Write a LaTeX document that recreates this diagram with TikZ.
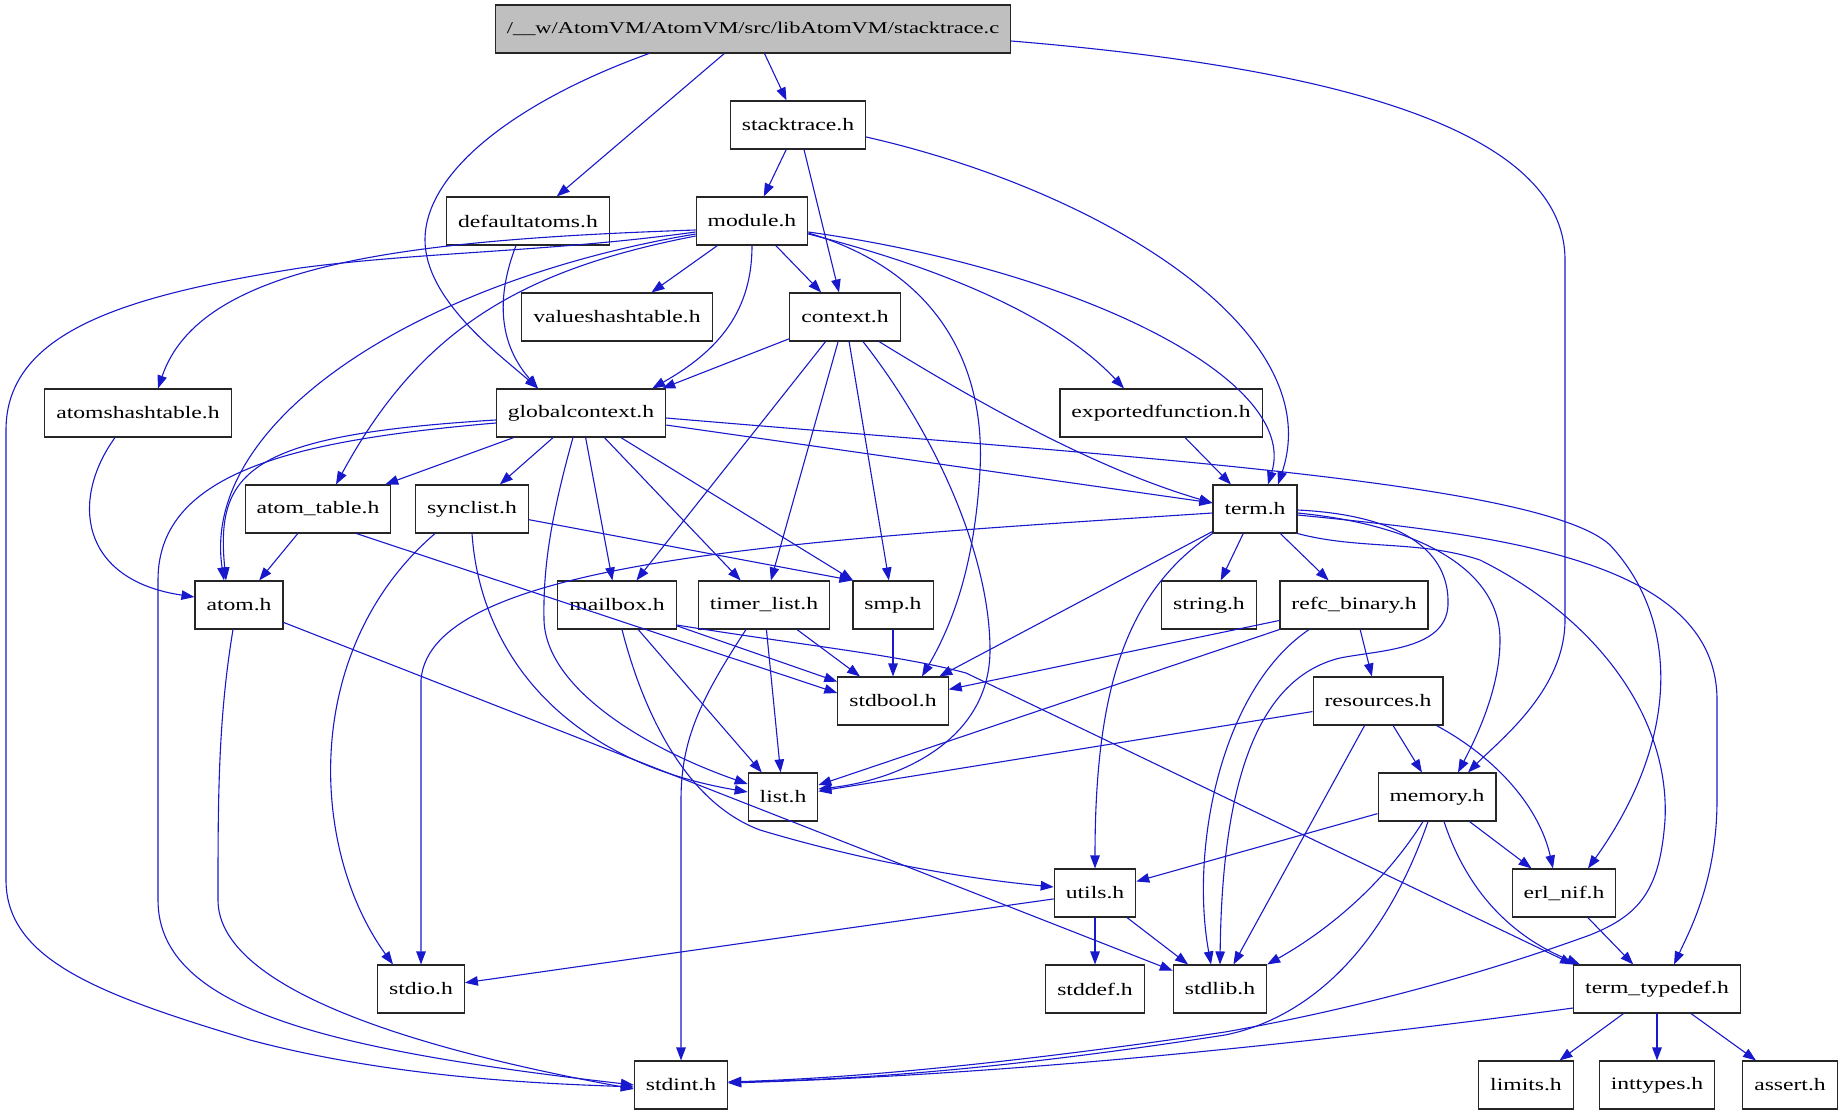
\documentclass[tikz,border=0pt]{standalone}
\usepackage{fontspec}
\setmainfont{Liberation Serif}[FakeStretch=1.35]
\usetikzlibrary{arrows.meta}
\definecolor{incblue}{RGB}{24,24,204}
\definecolor{rootgray}{RGB}{191,191,191}

\begin{document}
\begin{tikzpicture}[x=1pt,y=-1pt,>={Triangle[length=13pt,width=9.5pt]},
  hfile/.style={draw=black!85,line width=1.1pt,fill=white,rectangle,
    minimum height=48pt,inner xsep=11.5pt,inner ysep=0pt,
    font=\fontsize{17.5}{21}\selectfont},
  srcfile/.style={hfile,fill=rootgray,font=\fontsize{16.6}{20}\selectfont},
  inc/.style={->,draw=incblue,line width=1.1pt}]
\useasboundingbox (0,0) rectangle (1845,1115);

% the source file and its headers
\node[srcfile] (root) at (753,29) {/\_\_w/AtomVM/AtomVM/src/libAtomVM/stacktrace.c};
\foreach \n/\x/\y/\t in {
  sth/798/125/stacktrace.h,
  defaultatoms/528/221/defaultatoms.h, module/752/221/module.h,
  valueshashtable/617/317/valueshashtable.h, context/845/317/context.h,
  atomshashtable/138/413/atomshashtable.h, globalcontext/581/413/globalcontext.h,
  exportedfunction/1161/413/exportedfunction.h,
  atomtable/318/509/atom\_table.h, synclist/472/509/synclist.h, term/1255/509/term.h,
  atom/239/605/atom.h, mailbox/617/605/mailbox.h, timerlist/764/605/timer\_list.h,
  smp/893/605/smp.h, string/1209/605/string.h, refcbinary/1354/605/refc\_binary.h,
  stdbool/893/701/stdbool.h, resources/1378/701/resources.h,
  list/783/797/list.h, memory/1437/797/memory.h,
  utils/1095/893/utils.h, erlnif/1564/893/erl\_nif.h,
  stdio/421/989/stdio.h, stddef/1095/989/stddef.h, stdlib/1220/989/stdlib.h,
  termtypedef/1657/989/term\_typedef.h,
  stdint/681/1085/stdint.h, limits/1526/1085/limits.h,
  inttypes/1657/1085/inttypes.h, assert/1790/1085/assert.h}
  \node[hfile] (\n) at (\x,\y) {\t};

% straight includes
\foreach \a/\b in {root/defaultatoms, root/sth, sth/module, sth/context,
  module/valueshashtable, module/context, context/mailbox, context/timerlist,
  context/smp, globalcontext/atomtable, globalcontext/synclist,
  globalcontext/mailbox, globalcontext/timerlist, globalcontext/smp,
  globalcontext/term, exportedfunction/term, atomtable/atom, mailbox/list,
  mailbox/stdbool, timerlist/list, timerlist/stdbool, smp/stdbool,
  term/string, term/refcbinary, term/stdbool, refcbinary/resources,
  refcbinary/stdbool, resources/list, resources/stdlib, resources/memory,
  memory/utils, memory/erlnif, erlnif/termtypedef, utils/stdio, utils/stddef,
  utils/stdlib, atom/stdlib, termtypedef/limits, termtypedef/inttypes,
  termtypedef/assert}
  \draw[inc] (\a) -- (\b);
\draw[inc] (context) -- ([xshift=-4pt]globalcontext.north east);
\draw[inc] ([xshift=-35pt]atomtable.south east) -- ([yshift=8pt]stdbool.west);
\draw[inc] (synclist) -- (smp.north west);
\draw[inc] (refcbinary.south west) -- (list);

% stacktrace.c
\draw[inc] ([xshift=-104pt]root.south) .. controls (520,100) and (425,170) .. (425,240)
  .. controls (425,300) and (500,355) .. ([xshift=-43pt]globalcontext.north);
\draw[inc] ([yshift=-12pt]root.east) .. controls (1300,65) and (1565,120) .. (1565,260)
  -- (1565,620) .. controls (1565,690) and (1500,740) .. ([xshift=31pt]memory.north);
\draw[inc] ([yshift=-12pt]sth.east) .. controls (1100,190) and (1330,330) .. ([xshift=23pt]term.north);
\draw[inc] ([xshift=-12pt]defaultatoms.south) .. controls (495,300) and (500,345) .. ([xshift=-43pt]globalcontext.north);

% module.h
\draw[inc] ([yshift=-11pt]module.west) .. controls (550,252) and (420,252) .. (300,268)
  .. controls (130,295) and (6,330) .. (6,430) -- (6,880)
  .. controls (6,960) and (100,995) .. (250,1040)
  .. controls (400,1080) and (560,1084) .. ([yshift=-2pt]stdint.west);
\draw[inc] ([yshift=-9pt]module.west) .. controls (400,240) and (200,265) .. ([xshift=20pt]atomshashtable.north);
\draw[inc] ([yshift=-13pt]module.west) .. controls (420,280) and (200,420) .. ([xshift=-15pt]atom.north);
\draw[inc] ([yshift=-15pt]module.west) .. controls (520,270) and (420,330) .. ([xshift=18pt]atomtable.north);
\draw[inc] (module.south) .. controls (752,310) and (720,350) .. ([xshift=-14pt]globalcontext.north east);
\draw[inc] ([yshift=-12pt]module.east) .. controls (950,275) and (985,380) .. (980,470)
  .. controls (975,560) and (955,620) .. ([xshift=29pt]stdbool.north);
\draw[inc] ([yshift=-13pt]module.east) .. controls (950,270) and (1060,320) .. ([xshift=-37pt]exportedfunction.north);
\draw[inc] ([yshift=-11pt]module.east) .. controls (1080,270) and (1300,380) .. ([xshift=13pt]term.north);

% context.h
\draw[inc] ([xshift=18pt]context.south) .. controls (940,440) and (990,560) .. (990,650)
  .. controls (990,740) and (900,780) .. ([yshift=8pt]list.east);
\draw[inc] ([xshift=34pt]context.south) .. controls (990,410) and (1100,470) .. ([yshift=6pt]term.west);

% globalcontext.h
\draw[inc] ([yshift=-7pt]globalcontext.west) .. controls (250,435) and (215,470) .. ([xshift=-13pt]atom.north);
\draw[inc] ([yshift=-10pt]globalcontext.west) .. controls (300,440) and (158,470) .. (158,580)
  -- (158,900) .. controls (158,1010) and (330,1050) .. (stdint.west);
\draw[inc] ([xshift=-8pt]globalcontext.south) .. controls (550,520) and (543,570) .. (544,620)
  .. controls (546,690) and (650,750) .. ([yshift=13pt]list.west);
\draw[inc] ([yshift=-5pt]globalcontext.east) .. controls (1100,455) and (1540,480) .. (1610,545)
  .. controls (1680,620) and (1680,740) .. ([xshift=24pt]erlnif.north);

% second row headers
\draw[inc] ([xshift=-23pt]atomshashtable.south) .. controls (70,500) and (80,580) .. ([yshift=8pt]atom.west);
\draw[inc] ([xshift=-37pt]synclist.south) .. controls (300,650) and (310,850) .. ([xshift=-28pt]stdio.north);
\draw[inc] (synclist.south) .. controls (480,650) and (560,760) .. ([yshift=5pt]list.west);
\draw[inc] ([xshift=5pt]mailbox.south) .. controls (640,700) and (680,800) .. (760,830)
  .. controls (860,860) and (960,878) .. ([yshift=6pt]utils.west);
\draw[inc] ([yshift=-20pt]mailbox.east) .. controls (800,645) and (900,655) .. (966,673)
  -- (termtypedef.north west);
\draw[inc] ([xshift=-18pt]timerlist.south) .. controls (700,700) and (681,740) .. (681,800)
  -- (stdint.north);
\draw[inc] ([xshift=-6pt]atom.south) .. controls (218,720) and (218,800) .. (218,900)
  .. controls (218,990) and (420,1050) .. ([yshift=-4pt]stdint.west);

% term.h
\draw[inc] ([yshift=-4pt]term.west) .. controls (800,540) and (430,560) .. (421,680) -- (stdio.north);
\draw[inc] (term.south west) .. controls (1130,590) and (1095,680) .. (utils.north);
\draw[inc] ([yshift=-1pt]term.east) .. controls (1400,515) and (1450,550) .. (1448,605)
  .. controls (1446,650) and (1380,650) .. (1340,658)
  .. controls (1250,680) and (1222,800) .. (stdlib.north);
\draw[inc] ([yshift=-4pt]term.east) .. controls (1420,525) and (1500,570) .. (1500,640)
  .. controls (1500,690) and (1475,740) .. ([xshift=21pt]memory.north);
\draw[inc] ([yshift=-6pt]term.east) .. controls (1500,535) and (1717,560) .. (1717,700)
  -- (1717,800) .. controls (1717,880) and (1690,930) .. ([xshift=17pt]termtypedef.north);
\draw[inc] (term.south east) .. controls (1360,550) and (1420,540) .. (1480,560)
  .. controls (1600,620) and (1670,720) .. (1665,820)
  .. controls (1660,890) and (1640,915) .. (1590,935)
  .. controls (1480,975) and (1350,1010) .. (1225,1032)
  .. controls (1000,1065) and (850,1078) .. ([yshift=3pt]stdint.east);

% lower headers
\draw[inc] ([xshift=-9pt]memory.south) .. controls (1380,960) and (1300,1020) .. (1225,1035)
  .. controls (1000,1070) and (850,1080) .. ([yshift=3pt]stdint.east);
\draw[inc] ([xshift=-14pt]memory.south) .. controls (1380,890) and (1320,935) .. (stdlib.north east);
\draw[inc] ([xshift=7pt]memory.south) .. controls (1470,900) and (1520,940) .. ([xshift=-77pt]termtypedef.north);
\draw[inc] ([xshift=-7pt]resources.south east) .. controls (1500,760) and (1540,810) .. ([xshift=-11pt]erlnif.north);
\draw[inc] ([xshift=-45pt]refcbinary.south) .. controls (1220,690) and (1190,850) .. ([xshift=-9pt]stdlib.north);
\draw[inc] ([yshift=-19pt]termtypedef.west) .. controls (1300,1045) and (1000,1075) .. ([yshift=2pt]stdint.east);
\end{tikzpicture}
\end{document}
